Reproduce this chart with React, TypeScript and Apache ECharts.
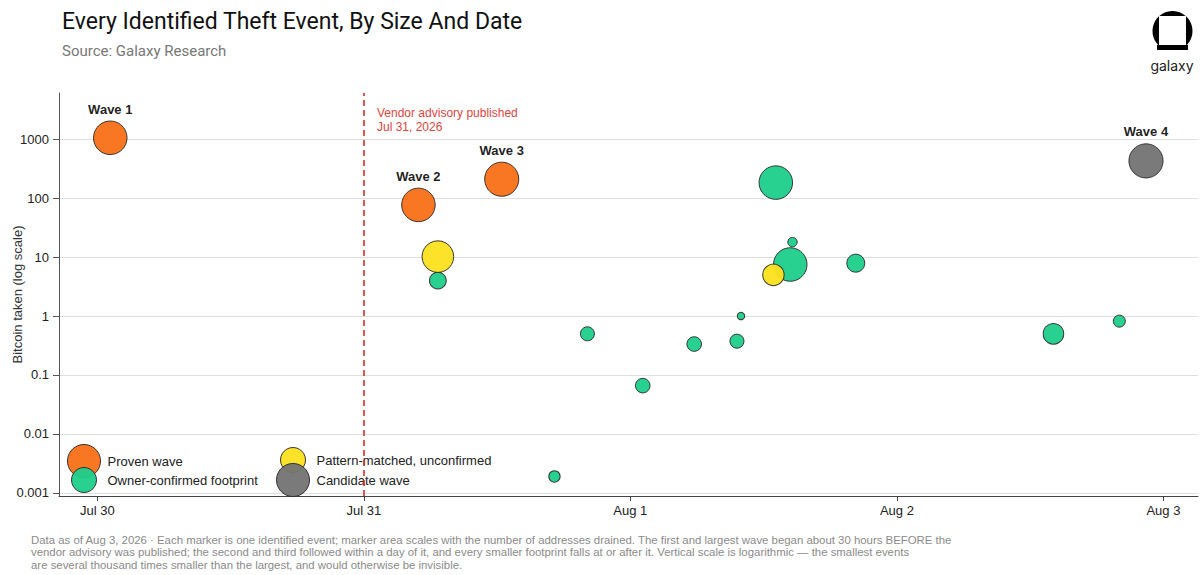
import React, { useEffect, useRef } from "react";
import * as echarts from "echarts";

// ---- data ----
const provenTimes = ["2026-07-30T01:10", "2026-07-31T04:55", "2026-07-31T12:25"];
const provenBtc = [1060, 77, 210];
const provenAddresses = [280, 280, 290];
const provenLabels = ["Wave 1", "Wave 2", "Wave 3"];

const footprintTimes = [
  "2026-07-31T06:40",
  "2026-07-31T20:08",
  "2026-07-31T17:10",
  "2026-08-01T01:07",
  "2026-08-01T05:45",
  "2026-08-01T09:36",
  "2026-08-01T09:58",
  "2026-08-01T13:06",
  "2026-08-01T14:36",
  "2026-08-01T14:24",
  "2026-08-01T20:18",
  "2026-08-02T14:06",
  "2026-08-02T20:02",
];
const footprintBtc = [4.0, 0.5, 0.0019, 0.066, 0.335, 0.375, 1.0, 184, 18, 7.5, 7.9, 0.5, 0.82];
const footprintAddresses = [70, 49, 32, 53, 53, 49, 14, 280, 22, 280, 81, 106, 36];

const patternTimes = ["2026-07-31T06:40", "2026-08-01T12:53"];
const patternBtc = [10.2, 5.0];
const patternAddresses = [250, 115];

const candidateTimes = ["2026-08-02T22:26"];
const candidateBtc = [430];
const candidateAddresses = [290];
const candidateLabels = ["Wave 4"];

const xOrigin = "2026-07-30T00:00";
const xTickTimes = ["2026-07-30T00:00", "2026-07-31T00:00", "2026-08-01T00:00", "2026-08-02T00:00", "2026-08-03T00:00"];
const xTickLabels = ["Jul 30", "Jul 31", "Aug 1", "Aug 2", "Aug 3"];
const yTickValues = [0.001, 0.01, 0.1, 1, 10, 100, 1000];
const yTickLabels = ["0.001", "0.01", "0.1", "1", "10", "100", "1000"];

const xMin = "2026-07-29T20:33";
const xMax = "2026-08-03T03:07";
const yMinBtc = 0.000884;
const yMaxBtc = 6100;

const advisoryTime = "2026-07-31T00:00";
const advisoryText = "Vendor advisory published\nJul 31, 2026";

const titleText = "Every Identified Theft Event, By Size And Date";
const subtitleText = "Source: Galaxy Research";
const footerText =
  "Data as of Aug 3, 2026 · Each marker is one identified event; marker area scales with the number of addresses drained. The first and largest wave began about 30 hours BEFORE the\n" +
  "vendor advisory was published; the second and third followed within a day of it, and every smaller footprint falls at or after it. Vertical scale is logarithmic — the smallest events\n" +
  "are several thousand times smaller than the largest, and would otherwise be invisible.";

const ORANGE = "#F96F16";
const GREEN = "#1DCF8B";
const YELLOW = "#FCE01C";
const GRAY = "#737373";

const DAY = 86400000;
const dayPos = (s: string) => (new Date(s).getTime() - new Date(xOrigin).getTime()) / DAY;

export default function App() {
  const ref = useRef<HTMLDivElement>(null);
  useEffect(() => {
    if (!ref.current) return;
    const chart = echarts.init(ref.current, null, { renderer: "svg" });

    const pts = (times: string[], btc: number[], addr: number[]) =>
      times.map((t, i) => [dayPos(t), Math.log10(btc[i]), addr[i]]);
    const size = (v: number[]) => 2 * Math.sqrt(v[2]);

    const xTicks = xTickTimes.map(dayPos);
    const yTicks = yTickValues.map((v) => Math.log10(v));

    const baseItem = (color: string) => ({
      color,
      borderColor: "#2b2b2b",
      borderWidth: 1,
      opacity: 0.95,
    });

    const waveLabel = (names: string[]) => ({
      show: true,
      position: "top" as const,
      distance: 5,
      formatter: (p: any) => names[p.dataIndex] || "",
      fontFamily: "Liberation Sans, Arial, sans-serif",
      fontWeight: "bold" as const,
      fontSize: 13,
      color: "#111",
    });

    const legendText = (padLeft: number) => ({
      fontFamily: "Liberation Sans, Arial, sans-serif",
      fontSize: 13,
      color: "#222",
      padding: [0, 0, 0, padLeft],
    });

    const legendBase = {
      padding: 0,
      icon: "circle",
      selectedMode: false,
      itemStyle: { borderWidth: 1, borderColor: "#2b2b2b" },
    };

    const option: any = {
      animation: false,
      textStyle: { fontFamily: "Liberation Sans, Arial, sans-serif" },
      title: [
        {
          text: titleText,
          left: 62,
          top: 10,
          padding: 0,
          textStyle: { fontFamily: "Roboto", fontSize: 23, fontWeight: 400, color: "#111" },
        },
        {
          text: subtitleText,
          left: 62,
          top: 43,
          padding: 0,
          textStyle: { fontFamily: "Roboto", fontSize: 15, fontWeight: 400, color: "#777" },
        },
        {
          text: footerText,
          left: 31,
          top: 534,
          padding: 0,
          textStyle: {
            fontFamily: "Liberation Sans, Arial, sans-serif",
            fontSize: 11.4,
            fontWeight: 400,
            color: "#8a8a8a",
            lineHeight: 12.2,
          },
        },
      ],
      legend: [
        {
          ...legendBase,
          data: ["Proven wave"],
          left: 67,
          top: 444,
          itemWidth: 33,
          itemHeight: 33,
          textStyle: legendText(2),
        },
        {
          ...legendBase,
          data: ["Owner-confirmed footprint"],
          left: 71,
          top: 467,
          itemWidth: 25,
          itemHeight: 25,
          textStyle: legendText(6),
        },
        {
          ...legendBase,
          data: ["Pattern-matched, unconfirmed"],
          left: 280,
          top: 447,
          itemWidth: 25,
          itemHeight: 25,
          textStyle: legendText(6),
        },
        {
          ...legendBase,
          data: ["Candidate wave"],
          left: 276,
          top: 463,
          itemWidth: 33,
          itemHeight: 33,
          textStyle: legendText(2),
        },
      ],
      grid: { left: 59, right: 2, top: 93, bottom: 79, containLabel: false, outerBoundsMode: "none" },
      xAxis: {
        type: "value",
        min: dayPos(xMin),
        max: dayPos(xMax),
        splitLine: { show: false },
        axisLine: { show: true, onZero: false, lineStyle: { color: "#444", width: 1 } },
        axisTick: { show: true, customValues: xTicks, length: 5, lineStyle: { color: "#444" } },
        axisLabel: {
          customValues: xTicks,
          formatter: (v: number) => {
            const i = xTicks.findIndex((t) => Math.abs(t - v) < 1e-4);
            return i >= 0 ? xTickLabels[i] : "";
          },
          fontSize: 13,
          color: "#222",
          margin: 8,
        },
      },
      yAxis: {
        type: "value",
        min: Math.log10(yMinBtc),
        max: Math.log10(yMaxBtc),
        name: "Bitcoin taken (log scale)",
        nameLocation: "middle",
        nameGap: 35,
        nameMoveOverlap: false,
        nameTextStyle: { fontSize: 13, color: "#333" },
        axisLine: { show: true, onZero: false, lineStyle: { color: "#555", width: 1 } },
        axisTick: { show: true, customValues: yTicks, length: 6, lineStyle: { color: "#555" } },
        axisLabel: {
          customValues: yTicks,
          formatter: (v: number) => {
            const i = yTicks.findIndex((t) => Math.abs(t - v) < 1e-6);
            return i >= 0 ? yTickLabels[i] : "";
          },
          fontSize: 13,
          color: "#222",
          margin: 10,
        },
        splitLine: { show: true, lineStyle: { color: "#dedede", width: 1 } },
      },
      series: [
        {
          name: "Proven wave",
          type: "scatter",
          data: pts(provenTimes, provenBtc, provenAddresses),
          symbolSize: size,
          itemStyle: baseItem(ORANGE),
          label: waveLabel(provenLabels),
          z: 3,
        },
        {
          name: "Owner-confirmed footprint",
          type: "scatter",
          data: pts(footprintTimes, footprintBtc, footprintAddresses),
          symbolSize: size,
          itemStyle: baseItem(GREEN),
          z: 3,
          markLine: {
            silent: true,
            symbol: "none",
            data: [{ xAxis: dayPos(advisoryTime) }],
            lineStyle: { type: [6, 4], color: "#d4302b", width: 1.6 },
            label: { show: false },
          },
        },
        {
          name: "Pattern-matched, unconfirmed",
          type: "scatter",
          data: pts(patternTimes, patternBtc, patternAddresses),
          symbolSize: size,
          itemStyle: baseItem(YELLOW),
          z: 4,
        },
        {
          name: "Candidate wave",
          type: "scatter",
          data: pts(candidateTimes, candidateBtc, candidateAddresses),
          symbolSize: size,
          itemStyle: baseItem(GRAY),
          label: waveLabel(candidateLabels),
          z: 4,
        },
      ],
      graphic: [
        {
          type: "text",
          left: 377,
          top: 106,
          style: {
            text: advisoryText,
            fontSize: 12,
            lineHeight: 14,
            fill: "#e0453e",
            fontFamily: "Liberation Sans, Arial, sans-serif",
          },
        },
        { type: "circle", shape: { cx: 1172.5, cy: 31, r: 20 }, style: { fill: "#000" } },
        { type: "rect", shape: { x: 1150, y: 50, width: 46, height: 6 }, style: { fill: "#fff" } },
        { type: "rect", shape: { x: 1157, y: 45, width: 31, height: 5 }, style: { fill: "#000" } },
        { type: "rect", shape: { x: 1159, y: 16, width: 27, height: 29 }, style: { fill: "#fff" } },
        {
          type: "text",
          x: 1172,
          y: 65,
          style: {
            text: "galaxy",
            fontSize: 14,
            fill: "#222",
            align: "center",
            verticalAlign: "middle",
            fontFamily: "Inter",
          },
        },
      ],
    };

    chart.setOption(option);
    return () => chart.dispose();
  }, []);

  return (
    <div
      ref={ref}
      style={{ position: "fixed", left: 0, top: 0, width: 1200, height: 575, background: "#fff" }}
    />
  );
}
